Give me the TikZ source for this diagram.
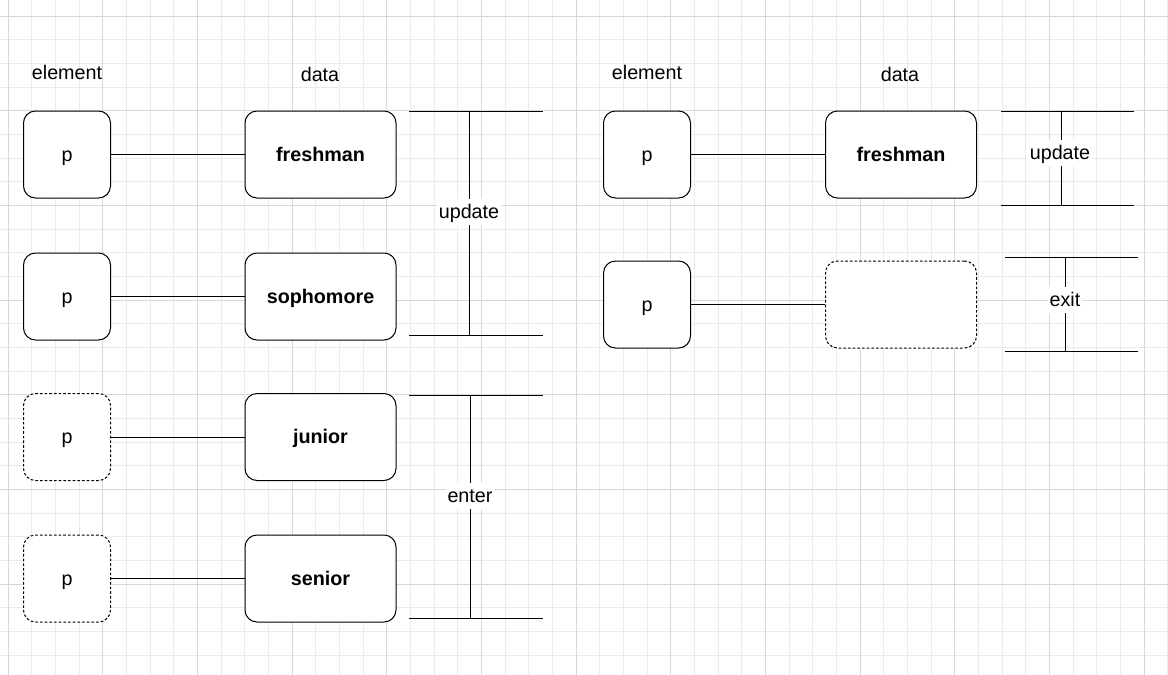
\documentclass[tikz,border=0pt]{standalone}
\usepackage{fontspec}
\setmainfont{Liberation Sans}
\usetikzlibrary{positioning}
\definecolor{gridMinor}{HTML}{EBEBEB}
\definecolor{gridMajor}{HTML}{D8D8D8}

\begin{document}
\begin{tikzpicture}[x=0.75pt, y=-0.75pt, font=\fontsize{14.8}{17}\selectfont,
	every node/.append style={text height=13pt, text depth=3pt},
	elemBox/.style={rectangle, draw, line width=0.75pt, rounded corners=9pt, fill=white, minimum width=65.25pt, minimum height=65.25pt},
	dataBox/.style={rectangle, draw, line width=0.75pt, rounded corners=9pt, fill=white, minimum width=113.25pt, minimum height=65.25pt, font=\fontsize{14.8}{17}\selectfont\bfseries},
	ghost/.style={dash pattern=on 2pt off 1.5pt},
	link/.style={line width=0.75pt},
	tagLabel/.style={fill=white, inner sep=1.5pt}]
	\fill[white] (0,0) rectangle (1168,675);
	\useasboundingbox (0,0) rectangle (1168,675);

	% grid
	\foreach \k in {0,...,49}
		\draw[gridMinor, line width=0.75pt] (8+23.67*\k,0) -- (8+23.67*\k,675);
	\foreach \k in {0,...,28}
		\draw[gridMinor, line width=0.75pt] (0,16+23.67*\k) -- (1168,16+23.67*\k);
	\foreach \k in {0,...,12}
		\draw[gridMajor, line width=0.75pt] (8+94.68*\k,0) -- (8+94.68*\k,675);
	\foreach \k in {0,...,7}
		\draw[gridMajor, line width=0.75pt] (0,16+94.68*\k) -- (1168,16+94.68*\k);

	% left: enter / update
	\node(elemHeadL) at (67,73){element};
	\node(dataHeadL) at (320,75){data};

	\node[elemBox](pBox1) at (67,154.5){p};
	\node[dataBox](freshmanBox) at (320.5,154.5){freshman};
	\node[elemBox](pBox2) at (67,296.5){p};
	\node[dataBox](sophomoreBox) at (320.5,296.5){sophomore};
	\node[elemBox, ghost](pBox3) at (67,437){p};
	\node[dataBox](juniorBox) at (320.5,437){junior};
	\node[elemBox, ghost](pBox4) at (67,578.5){p};
	\node[dataBox](seniorBox) at (320.5,578.5){senior};

	\draw[link] (pBox1) -- (freshmanBox);
	\draw[link] (pBox2) -- (sophomoreBox);
	\draw[link] (pBox3) -- (juniorBox);
	\draw[link] (pBox4) -- (seniorBox);

	\coordinate(updTopL) at (409,111);
	\coordinate(updTopR) at (543,111);
	\coordinate(updTopMid) at (469,111);
	\coordinate(updBotL) at (409,335);
	\coordinate(updBotR) at (543,335);
	\coordinate(updBotMid) at (469,335);
	\draw[link] (updTopL) -- (updTopR);
	\draw[link] (updBotL) -- (updBotR);
	\draw[link] (updTopMid) -- (updBotMid);
	\node[tagLabel](updLabel) at (469,212){update};

	\coordinate(entTopL) at (409,395);
	\coordinate(entTopR) at (543,395);
	\coordinate(entTopMid) at (470,395);
	\coordinate(entBotL) at (409,618);
	\coordinate(entBotR) at (543,618);
	\coordinate(entBotMid) at (470,618);
	\draw[link] (entTopL) -- (entTopR);
	\draw[link] (entBotL) -- (entBotR);
	\draw[link] (entTopMid) -- (entBotMid);
	\node[tagLabel](entLabel) at (470,496){enter};

	% right: update / exit
	\node(elemHeadR) at (647,73){element};
	\node(dataHeadR) at (900,75){data};

	\node[elemBox](pBoxR1) at (647,154.5){p};
	\node[dataBox](freshmanBoxR) at (901,154.5){freshman};
	\node[elemBox](pBoxR2) at (647,304.5){p};
	\node[dataBox, ghost](emptyBoxR) at (901,304.5){};

	\draw[link] (pBoxR1) -- (freshmanBoxR);
	\draw[link] (pBoxR2) -- (emptyBoxR);

	\coordinate(updRTopL) at (1001,111);
	\coordinate(updRTopR) at (1134,111);
	\coordinate(updRTopMid) at (1061,111);
	\coordinate(updRBotL) at (1001,205);
	\coordinate(updRBotR) at (1134,205);
	\coordinate(updRBotMid) at (1061,205);
	\draw[link] (updRTopL) -- (updRTopR);
	\draw[link] (updRBotL) -- (updRBotR);
	\draw[link] (updRTopMid) -- (updRBotMid);
	\node[tagLabel](updRLabel) at (1060,153){update};

	\coordinate(exitTopL) at (1005,257);
	\coordinate(exitTopR) at (1138,257);
	\coordinate(exitTopMid) at (1065,257);
	\coordinate(exitBotL) at (1005,351);
	\coordinate(exitBotR) at (1138,351);
	\coordinate(exitBotMid) at (1065,351);
	\draw[link] (exitTopL) -- (exitTopR);
	\draw[link] (exitBotL) -- (exitBotR);
	\draw[link] (exitTopMid) -- (exitBotMid);
	\node[tagLabel](exitLabel) at (1065,300){exit};
\end{tikzpicture}
\end{document}
